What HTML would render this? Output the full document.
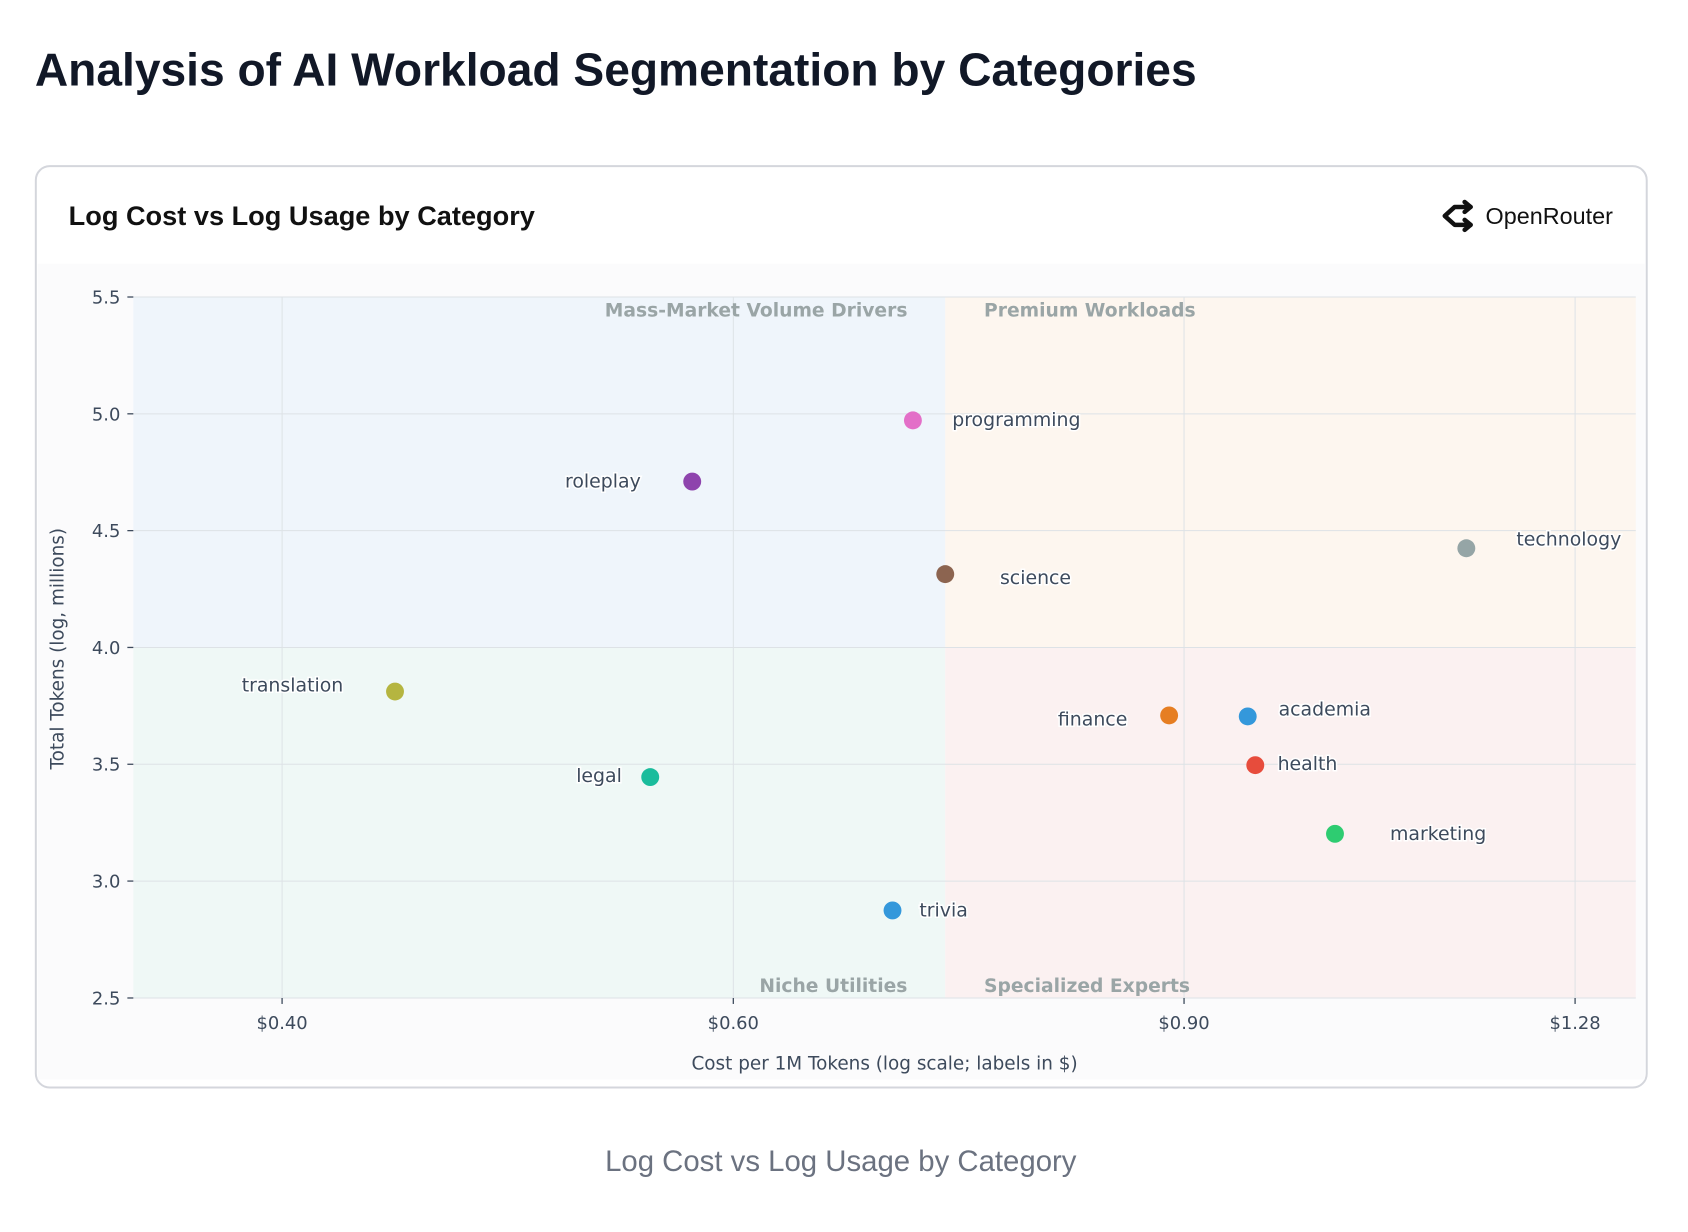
<!DOCTYPE html>
<html><head><meta charset="utf-8"><style>
html,body{margin:0;padding:0;background:#fff;}
svg{display:block;font-family:"Liberation Sans","DejaVu Sans",sans-serif;}
.tk{font-size:18px;fill:#3d4a5c;font-family:"DejaVu Sans",sans-serif;}
.at{font-size:18.5px;fill:#3d4a5c;font-family:"DejaVu Sans",sans-serif;}
.lb{font-size:19px;fill:#3d4a5c;font-family:"DejaVu Sans",sans-serif;paint-order:stroke;stroke:#fff;stroke-width:3px;}
.q{font-size:18.8px;fill:#9aa5a6;font-weight:bold;font-family:"DejaVu Sans",sans-serif;}
</style></head><body>
<svg width="1688" height="1232" viewBox="0 0 1688 1232" xmlns="http://www.w3.org/2000/svg">
<g transform="scale(0.995)">
<text x="35" y="86" font-size="46.4" font-weight="bold" fill="#111827">Analysis of AI Workload Segmentation by Categories</text>
<rect x="36" y="167" width="1619" height="926" rx="14" fill="#fff" stroke="#d4d6dc" stroke-width="2"/>
<rect x="38" y="265" width="1615" height="820" fill="#fbfbfc"/>
<text x="69" y="226" font-size="27.3" font-weight="bold" fill="#111">Log Cost vs Log Usage by Category</text>
<g transform="translate(1448,217)" fill="none" stroke="#111" stroke-width="4.5" stroke-linejoin="round" stroke-linecap="round">
<path d="M30 -9 L14 -9 L4 0 L14 9 L30 9"/><path d="M24 -14 L30 -9 L24 -4"/><path d="M24 4 L30 9 L24 14"/>
</g>
<text x="1493" y="225" font-size="23.5" fill="#111">OpenRouter</text>
<rect x="134" y="298.5" width="816" height="352.2" fill="#eff5fb"/>
<rect x="950" y="298.5" width="694" height="352.2" fill="#fdf6ef"/>
<rect x="134" y="650.7" width="816" height="352.3" fill="#eff8f6"/>
<rect x="950" y="650.7" width="694" height="352.3" fill="#fbf1f1"/>
<g stroke="#dde2e6" stroke-width="1">
<line x1="134" x2="1644" y1="298.5" y2="298.5"/><line x1="134" x2="1644" y1="415.9" y2="415.9"/>
<line x1="134" x2="1644" y1="533.3" y2="533.3"/><line x1="134" x2="1644" y1="650.7" y2="650.7"/>
<line x1="134" x2="1644" y1="768.1" y2="768.1"/><line x1="134" x2="1644" y1="885.5" y2="885.5"/>
<line x1="134" x2="1644" y1="1003" y2="1003"/>
<line x1="283.5" x2="283.5" y1="298.5" y2="1003"/><line x1="737" x2="737" y1="298.5" y2="1003"/>
<line x1="1190" x2="1190" y1="298.5" y2="1003"/><line x1="1583" x2="1583" y1="298.5" y2="1003"/>
</g>
<g stroke="#3d4a5c" stroke-width="1.3">
<line x1="128" x2="134" y1="298.5" y2="298.5"/><line x1="128" x2="134" y1="415.9" y2="415.9"/>
<line x1="128" x2="134" y1="533.3" y2="533.3"/><line x1="128" x2="134" y1="650.7" y2="650.7"/>
<line x1="128" x2="134" y1="768.1" y2="768.1"/><line x1="128" x2="134" y1="885.5" y2="885.5"/>
<line x1="128" x2="134" y1="1003" y2="1003"/>
<line x1="283.5" x2="283.5" y1="1003" y2="1009"/><line x1="737" x2="737" y1="1003" y2="1009"/>
<line x1="1190" x2="1190" y1="1003" y2="1009"/><line x1="1583" x2="1583" y1="1003" y2="1009"/>
</g>
<g class="tk" text-anchor="end">
<text x="121" y="305">5.5</text><text x="121" y="422.4">5.0</text><text x="121" y="539.8">4.5</text>
<text x="121" y="657.2">4.0</text><text x="121" y="774.6">3.5</text><text x="121" y="892">3.0</text><text x="121" y="1009.5">2.5</text>
</g>
<g class="tk" text-anchor="middle">
<text x="283.5" y="1034">$0.40</text><text x="737" y="1034">$0.60</text><text x="1190" y="1034">$0.90</text><text x="1583" y="1034">$1.28</text>
</g>
<text class="at" x="889" y="1075" text-anchor="middle">Cost per 1M Tokens (log scale; labels in $)</text>
<text class="at" transform="translate(64,652) rotate(-90)" text-anchor="middle">Total Tokens (log, millions)</text>
<text class="q" x="912" y="318" text-anchor="end">Mass-Market Volume Drivers</text>
<text class="q" x="989" y="318">Premium Workloads</text>
<text class="q" x="912" y="997" text-anchor="end">Niche Utilities</text>
<text class="q" x="989" y="997">Specialized Experts</text>
<g>
<circle cx="917.5" cy="422.5" r="9" fill="#e36fc8"/>
<circle cx="695.7" cy="484" r="9" fill="#8e44ad"/>
<circle cx="950" cy="577" r="9" fill="#8c6450"/>
<circle cx="1473.7" cy="551" r="9" fill="#95a5a6"/>
<circle cx="397" cy="695" r="9" fill="#b5b540"/>
<circle cx="1175" cy="719" r="9" fill="#e67e22"/>
<circle cx="1254" cy="720" r="9" fill="#3498db"/>
<circle cx="1261.6" cy="769" r="9" fill="#e74c3c"/>
<circle cx="653.5" cy="781" r="9" fill="#1abc9c"/>
<circle cx="1341.7" cy="838" r="9" fill="#2ecc71"/>
<circle cx="897" cy="915" r="9" fill="#3498db"/>
</g>
<g class="lb">
<text x="957" y="428">programming</text>
<text x="644" y="490" text-anchor="end">roleplay</text>
<text x="1005" y="587">science</text>
<text x="1524" y="548">technology</text>
<text x="345" y="695" text-anchor="end">translation</text>
<text x="1133" y="729" text-anchor="end">finance</text>
<text x="1285" y="719">academia</text>
<text x="1284" y="774">health</text>
<text x="625" y="786" text-anchor="end">legal</text>
<text x="1397" y="844">marketing</text>
<text x="924" y="921">trivia</text>
</g>
<text x="845" y="1177" font-size="29.5" fill="#6b7280" text-anchor="middle">Log Cost vs Log Usage by Category</text>
</g>
</svg>
</body></html>
